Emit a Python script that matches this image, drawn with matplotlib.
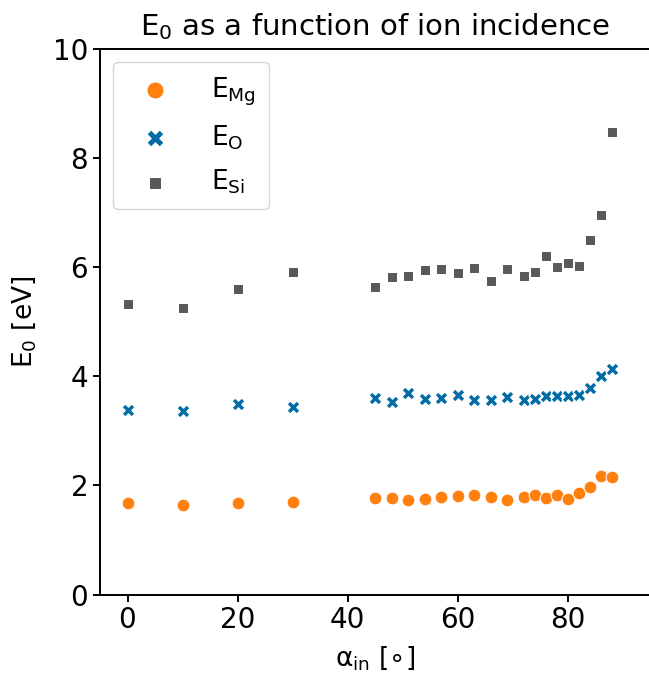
import matplotlib
matplotlib.use("Agg")
import matplotlib.pyplot as plt
import numpy as np

# Data
alpha_in = [0, 10, 20, 30, 45, 48, 51, 54, 57, 60, 63, 66, 69, 72, 74, 76, 78, 80, 82, 84, 86, 88]
E_Mg = [1.67, 1.65, 1.67, 1.69, 1.77, 1.77, 1.74, 1.76, 1.78, 1.80, 1.82, 1.79, 1.74, 1.78, 1.82,
        1.77, 1.82, 1.75, 1.87, 1.97, 2.18, 2.15]
E_O = [3.38, 3.37, 3.49, 3.44, 3.60, 3.53, 3.69, 3.58, 3.61, 3.66, 3.57, 3.57, 3.63, 3.56, 3.59,
       3.64, 3.64, 3.64, 3.66, 3.78, 4.01, 4.14]
E_Si = [5.33, 5.25, 5.60, 5.91, 5.63, 5.82, 5.84, 5.94, 5.97, 5.90, 5.98, 5.74, 5.97, 5.84, 5.91,
        6.20, 6.00, 6.08, 6.02, 6.49, 6.96, 8.48]
labels = [r'$\mathrm{E_{Mg}}$', r'$\mathrm{E_{O}}$', r'$\mathrm{E_{Si}}$']
colors = ['#FF800E', '#006BA4', '#595959']
markers = ['o', 'X', (4, 0, 45)]
x_ticks = [0, 20, 40, 60, 80]
y_ticks = [0, 2, 4, 6, 8, 10]

W, H = 649, 675
fig = plt.figure(figsize=(W / 100, H / 100), dpi=100)
ax = fig.add_axes([100 / W, (H - 594.6) / H, 550 / W, (594.6 - 48.9) / H])

for yv, lab, c, m in zip([E_Mg, E_O, E_Si], labels, colors, markers):
    ax.scatter(alpha_in, yv, s=85, c=c, marker=m, label=lab, edgecolors='white', linewidths=0.75)

ax.set_xlim(-5, 95)
ax.set_ylim(0, 10)
ax.set_xticks(x_ticks)
ax.set_yticks(y_ticks)
ax.tick_params(labelsize=20, length=5, width=1.4)
for s in ['left', 'bottom', 'top']:
    ax.spines[s].set_linewidth(1.4)
ax.spines['right'].set_visible(False)

ax.set_xlabel(r'$\mathrm{\alpha_{in}}$ [$\circ$]', fontsize=19, labelpad=7)
ax.set_ylabel(r'$\mathrm{E_0}$ [eV]', fontsize=19, labelpad=11)
ax.set_title(r'E$_0$ as a function of ion incidence', fontsize=21, pad=10)

ax.legend(loc='upper left', fontsize=19, markerscale=1.33, handlelength=2.2,
          handletextpad=1.0, labelspacing=0.6, borderaxespad=0.5, borderpad=0.5)

fig.savefig('out.png', dpi=100)
